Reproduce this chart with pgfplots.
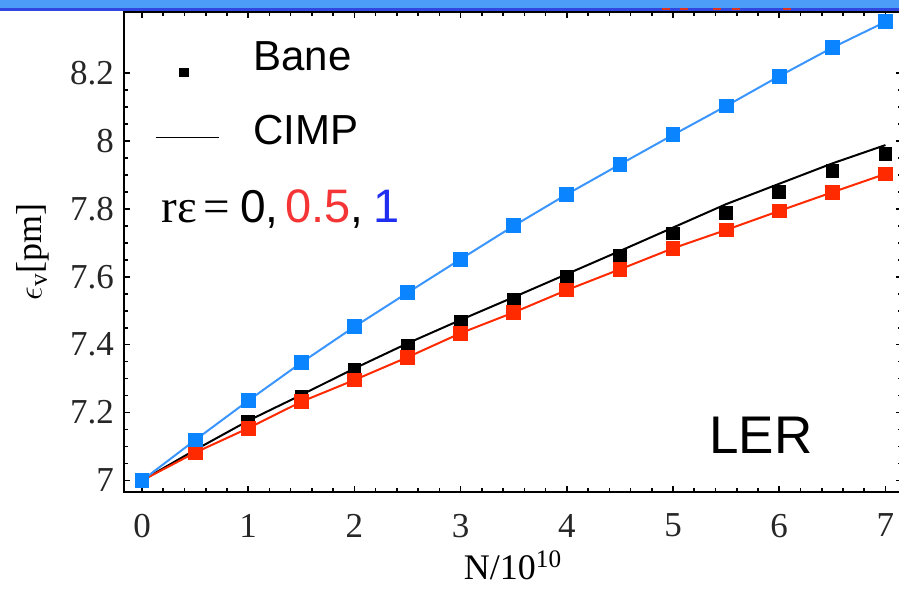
\documentclass[border=0pt]{standalone}
\usepackage{pgfplots}
\pgfplotsset{compat=1.18}
\usepackage{fontspec}
\setmainfont{Liberation Serif}
\newfontfamily\arial{Liberation Sans}

\definecolor{cblue}{HTML}{0A84FF}
\definecolor{cblueline}{HTML}{3A95FF}
\definecolor{cred}{HTML}{FF2A00}
\definecolor{cTxtRed}{HTML}{F53535}
\definecolor{cTxtBlue}{HTML}{1F2EF0}
\definecolor{stripe}{HTML}{4C9DF7}
\definecolor{stripedark}{HTML}{3048E0}
\definecolor{stripered}{HTML}{E03020}

\pgfplotsset{
  markleg/.style={legend image code/.code={\path[draw=none] (0pt,0pt) -- (31.5pt,0pt);
    \path[##1] plot coordinates {(14pt,-7.5pt)};}},
  lineleg/.style={legend image code/.code={\draw[##1] (0pt,-3pt) -- (31.5pt,-3pt);}},
}

% vertical emittance vs bunch population, LER
% Bane model, r_eps = 0
\pgfplotstableread{
x y
0   7.000
0.5 7.090
1   7.173
1.5 7.247
2   7.325
2.5 7.397
3   7.466
3.5 7.532
4   7.599
4.5 7.662
5   7.728
5.5 7.789
6   7.851
6.5 7.913
7   7.962
}\baneZero
% CIMP, r_eps = 0
\pgfplotstableread{
x y
0   7.000
0.5 7.090
1   7.176
1.5 7.252
2   7.330
2.5 7.404
3   7.473
3.5 7.540
4   7.608
4.5 7.676
5   7.745
5.5 7.814
6   7.874
6.5 7.934
7   7.988
}\cimpZero
% r_eps = 0.5
\pgfplotstableread{
x y
0   7.000
0.5 7.082
1   7.154
1.5 7.232
2   7.296
2.5 7.363
3   7.434
3.5 7.495
4   7.561
4.5 7.622
5   7.684
5.5 7.738
6   7.794
6.5 7.849
7   7.903
}\half
% r_eps = 1
\pgfplotstableread{
x y
0   7.000
0.5 7.119
1   7.235
1.5 7.347
2   7.453
2.5 7.553
3   7.652
3.5 7.750
4   7.843
4.5 7.931
5   8.018
5.5 8.103
6   8.191
6.5 8.275
7   8.351
}\one

\begin{document}
\begin{tikzpicture}[x=0.5pt,y=0.5pt]
% header strip
\fill[stripe] (0,589) rectangle (899,581);
\fill[stripedark] (0,581) rectangle (899,578.3);
\foreach \a/\b in {662/670,680/688,713/721,732/740,783/791}
  \fill[stripered] (\a,578.5) rectangle (\b,580.5);

\begin{axis}[
  at={(62pt,48.5pt)}, anchor=south west,
  scale only axis, width=389pt, height=240pt,
  xmin=-0.1695, xmax=7.156, ymin=6.9661, ymax=8.3800,
  xtick={0,1,2,3,4,5,6,7},
  ytick={7,7.2,7.4,7.6,7.8,8,8.2},
  yticklabels={7,7.2,7.4,7.6,7.8,8,8.2},
  minor x tick num=4, minor y tick num=3,
  tick align=inside,
  major tick length=3pt, minor tick length=1.8pt,
  axis line style={line width=1.1pt},
  every tick/.style={black, line width=0.8pt},
  ticklabel style={font=\fontsize{17.5}{17.5}\selectfont, text=black!85},
  /pgf/number format/assume math mode=true,
  xticklabel style={yshift=-7.5pt},
  yticklabel style={xshift=-1.5pt},
  xlabel={N/10\textsuperscript{10}},
  xlabel style={font=\fontsize{18}{18}\selectfont, at={(axis description cs:0.5,-0.1833)}, anchor=base},
  ylabel={$\epsilon_{\mathrm{v}}$[pm]},
  ylabel style={font=\fontsize{18}{18}\selectfont, at={(axis description cs:-0.117,0.5)}, anchor=center},
  legend style={draw=none, fill=none, at={(axis description cs:0.0398,0.947)}, anchor=north west,
    inner sep=0pt, outer sep=0pt, row sep=17pt, column sep=15pt,
    font=\arial\fontsize{21}{21}\selectfont},
  legend cell align=left,
]
\addlegendimage{only marks, mark=square*, mark size=2.2pt, black, markleg}
\addlegendentry{Bane}
\addlegendimage{black, line width=0.7pt, lineleg}
\addlegendentry{CIMP}

\addplot[only marks, mark=square*, mark size=3.2pt, black] table {\baneZero};
\addplot[black, line width=1pt, mark=none] table {\cimpZero};
\addplot[cred, line width=1pt, mark=square*, mark size=3.2pt, mark options={fill=cred, draw=cred}] table {\half};
\addplot[cblueline, line width=1pt, mark=square*, mark size=3.2pt, mark options={fill=cblue, draw=cblue}] table {\one};
\end{axis}

% parameter annotation: r_eps values, coloured like the curves
\begin{scope}[every node/.style={anchor=base west, inner sep=0pt}]
\node at (161,366) {\fontsize{23.5}{23.5}\selectfont rε};
\node at (203,366) {\fontsize{23.5}{23.5}\selectfont =};
\node at (240,366) {\arial\fontsize{23}{23}\selectfont 0,};
\node at (285,366) {\arial\fontsize{23.5}{23.5}\selectfont\color{cTxtRed}0.5};
\node at (350,366) {\arial\fontsize{23}{23}\selectfont ,};
\node at (373,366) {\arial\fontsize{23.5}{23.5}\selectfont\color{cTxtBlue}1};
% panel tag
\node at (709,135) {\arial\fontsize{26.5}{26.5}\selectfont LER};
\end{scope}

\pgfresetboundingbox
\useasboundingbox (0,0) rectangle (899,589);
\end{tikzpicture}
\end{document}
